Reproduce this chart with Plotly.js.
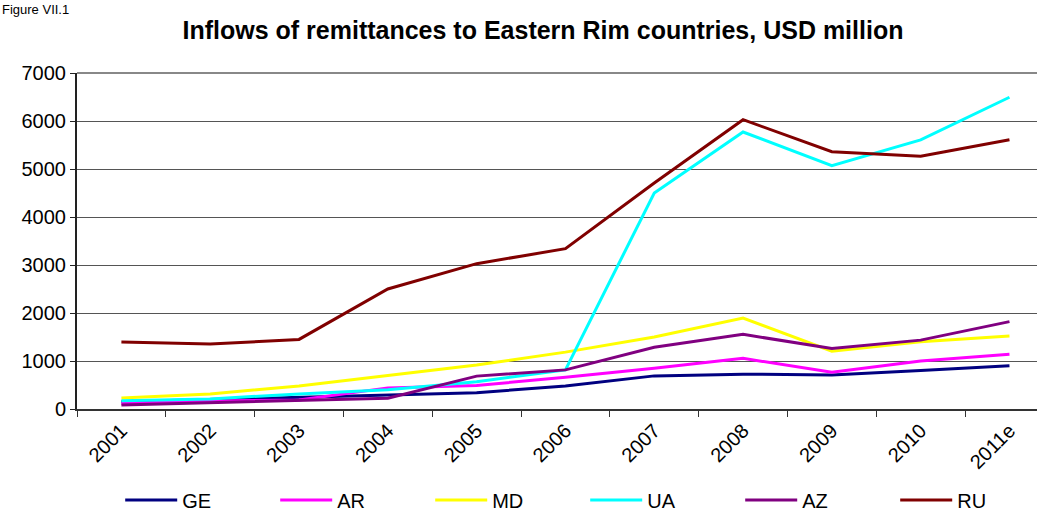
<!DOCTYPE html>
<html>
<head>
<meta charset="utf-8">
<script src="https://cdn.plot.ly/plotly-3.0.1.min.js"></script>
<style>html,body{margin:0;padding:0;background:#fff;}#chart{width:1037px;height:513px;}</style>
</head>
<body>
<div id="chart"></div>
<script>
const years = ["2001","2002","2003","2004","2005","2006","2007","2008","2009","2010","2011e"];
const GE = [150, 195, 235, 290, 340, 480, 690, 725, 710, 800, 900];
const AR = [115, 165, 190, 440, 490, 660, 850, 1055, 765, 1000, 1140];
const MD = [230, 315, 480, 705, 915, 1185, 1500, 1895, 1205, 1400, 1520];
const UA = [170, 210, 315, 400, 570, 815, 4500, 5770, 5070, 5605, 6495];
const AZ = [85, 130, 165, 225, 685, 815, 1285, 1555, 1262, 1435, 1820];
const RU = [1395, 1352, 1450, 2500, 3028, 3340, 4708, 6028, 5360, 5265, 5610];

const seriesNames = ["GE","AR","MD","UA","AZ","RU"];
const seriesData = [GE, AR, MD, UA, AZ, RU];
const seriesColors = ["#000080","#FF00FF","#FFFF00","#00FFFF","#800080","#800000"];

const traces = seriesNames.map((n, i) => ({
  type: "scatter",
  mode: "lines",
  name: n,
  x: years,
  y: seriesData[i],
  line: {color: seriesColors[i], width: 3},
  hoverinfo: "skip"
}));

const layout = {
  width: 1037,
  height: 513,
  paper_bgcolor: "#ffffff",
  plot_bgcolor: "#ffffff",
  font: {family: "Liberation Sans, Arial, sans-serif", size: 19, color: "#000"},
  margin: {l: 77, r: 0, t: 73, b: 104, autoexpand: false},
  title: {
    text: "<b>Inflows of remittances to Eastern Rim countries, USD million</b>",
    font: {family: "Liberation Sans, Arial, sans-serif", size: 25, color: "#000"},
    x: 0.5236, xanchor: "center", xref: "container",
    y: 0.941, yanchor: "middle", yref: "container"
  },
  xaxis: {
    type: "category",
    range: [-0.5, 10.31],
    showgrid: false,
    showline: true,
    linecolor: "#333",
    linewidth: 2,
    ticks: "outside",
    tickson: "boundaries",
    ticklen: 6,
    tickcolor: "#333",
    tickangle: -45,
    tickfont: {size: 20, color: "#000"},
    zeroline: false,
    fixedrange: true
  },
  yaxis: {
    range: [0, 7000],
    tickvals: [0,1000,2000,3000,4000,5000,6000,7000],
    showgrid: true,
    gridcolor: "#555",
    gridwidth: 1,
    showline: true,
    linecolor: "#222",
    linewidth: 2,
    ticks: "outside",
    ticklen: 5,
    tickcolor: "#222",
    tickfont: {size: 20, color: "#000"},
    zeroline: false,
    fixedrange: true
  },
  shapes: [{
    type: "line", xref: "paper", yref: "paper",
    x0: 0, x1: 1, y0: 1, y1: 1,
    line: {color: "#888", width: 2}
  }],
  legend: {
    orientation: "h",
    x: 0.045, xanchor: "left",
    y: -0.271, yanchor: "middle",
    itemwidth: 52,
    entrywidth: 88,
    entrywidthmode: "pixels",
    font: {size: 20, color: "#000"},
    bgcolor: "rgba(0,0,0,0)",
    traceorder: "normal"
  },
  annotations: [{
    text: "Figure VII.1",
    xref: "paper", yref: "paper",
    x: -0.08, xanchor: "left",
    y: 1.218, yanchor: "top",
    showarrow: false,
    font: {size: 13, color: "#000"}
  }],
  showlegend: true
};

Plotly.newPlot("chart", traces, layout, {displayModeBar: false, staticPlot: true});
</script>
</body>
</html>
